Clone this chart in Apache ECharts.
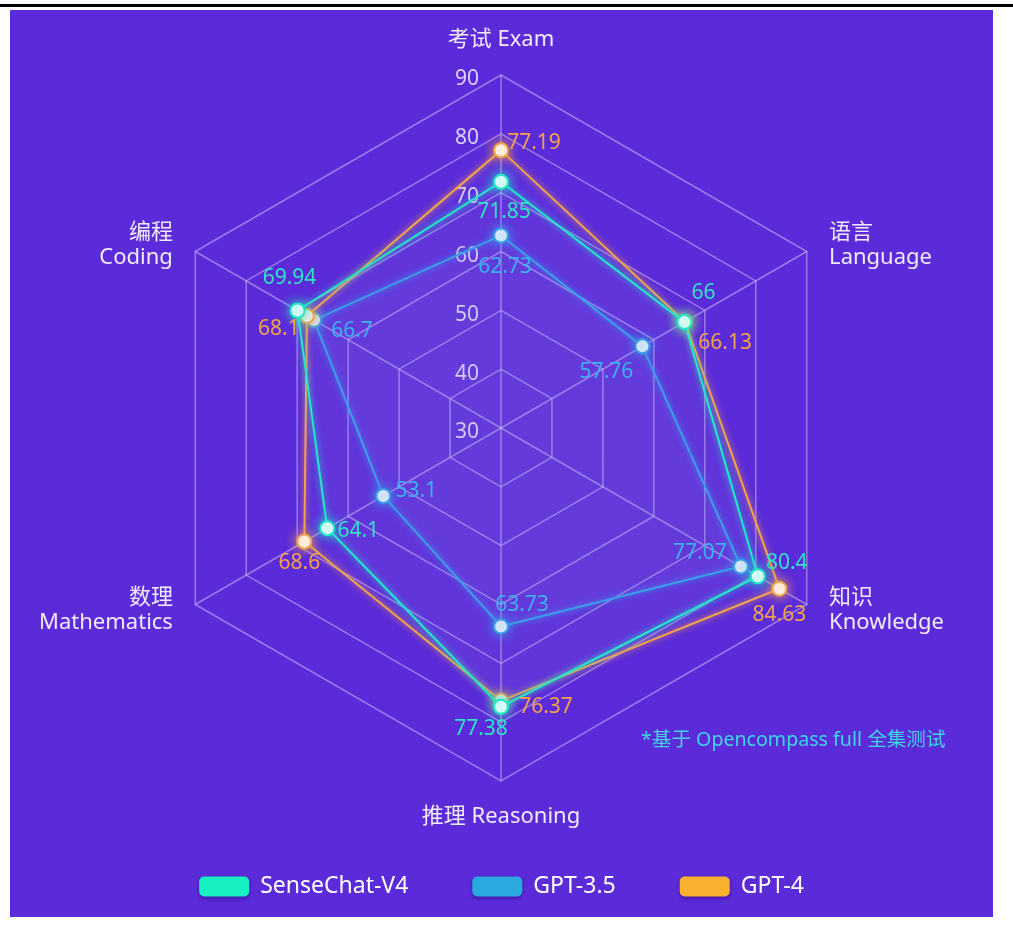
<!DOCTYPE html>
<html>
<head>
<meta charset="utf-8">
<script src="https://cdn.jsdelivr.net/npm/echarts@6/dist/echarts.min.js"></script>
<style>
  html, body { margin: 0; padding: 0; background: #ffffff; width: 1013px; height: 925px; overflow: hidden; }
  #topline { position: absolute; left: 0; top: 4px; width: 1013px; height: 3px; background: #000; }
  #chart { position: absolute; left: 10px; top: 10px; width: 983px; height: 907px; background: #5b2bd9; }
</style>
</head>
<body>
<div id="topline"></div>
<div id="chart"></div>
<script>
// ---- data (radar order: counter-clockwise from top) ----
const indicatorNames = ['考试 Exam', '编程\nCoding', '数理\nMathematics', '推理 Reasoning', '知识\nKnowledge', '语言\nLanguage'];
const axisMin = 30;
const axisMax = 90;
const seriesNames = ['SenseChat-V4', 'GPT-3.5', 'GPT-4'];
const senseChatV4 = [71.85, 69.94, 64.1, 77.38, 80.4, 66];
const gpt35 = [62.73, 66.7, 53.1, 63.73, 77.07, 57.76];
const gpt4 = [77.19, 68.1, 68.6, 76.37, 84.63, 66.13];
const footnote = '*基于 Opencompass full 全集测试';

// ---- styles ----
const FONT = "'Noto Sans', 'Noto Sans CJK SC', sans-serif";
const lineColors = { 'SenseChat-V4': '#22e8c8', 'GPT-3.5': '#2f9fe8', 'GPT-4': '#f2a448' };
const labelColors = { 'SenseChat-V4': '#2ee3c6', 'GPT-3.5': '#3ab2ee', 'GPT-4': '#f2a24a' };
const legendColors = { 'SenseChat-V4': '#17f0c0', 'GPT-3.5': '#2aa8e0', 'GPT-4': '#f8b12f' };
// label offsets per vertex (style only)
const labelOffsets = {
  'SenseChat-V4': [[3, 30], [-8, -32], [31, 3], [-20, 22], [29, -13], [19, -29]],
  'GPT-3.5': [[4, 32], [38, 11], [33, -5], [21, -21], [-41, -13], [-36, 26]],
  'GPT-4': [[33, -7], [-28, 13], [-5, 21], [45, 6], [0, 26], [40, 21]]
};
const valuesByName = { 'SenseChat-V4': senseChatV4, 'GPT-3.5': gpt35, 'GPT-4': gpt4 };
const drawOrder = ['GPT-3.5', 'GPT-4', 'SenseChat-V4'];

const chart = echarts.init(document.getElementById('chart'), null, { renderer: 'canvas' });

const indicator = indicatorNames.map((n, i) => {
  const o = { name: n, min: axisMin, max: axisMax };
  if (i === 0) {
    o.axisLabel = {
      show: true, margin: 22,
      formatter: (v) => '{t|' + v + '}',
      rich: { t: { color: '#ddd1f8', fontSize: 21, fontFamily: FONT, padding: [9, 0, 0, 0] } }
    };
  }
  return o;
});

const series = [];
drawOrder.forEach((name, k) => {
  const c = lineColors[name];
  series.push({
    type: 'radar',
    name: name,
    z: 2 + k,
    symbol: 'circle',
    symbolSize: 14,
    itemStyle: { color: '#ffffff', borderColor: c, borderWidth: 2, shadowBlur: 12, shadowColor: c },
    lineStyle: { color: c, width: 2, shadowBlur: 6, shadowColor: c },
    areaStyle: { color: 'rgba(150,160,235,0.07)' },
    label: { show: false },
    data: [{ value: valuesByName[name], name: name }]
  });
});
drawOrder.forEach((name) => {
  const vals = valuesByName[name];
  vals.forEach((v, i) => {
    series.push({
      type: 'radar',
      name: name + '__label' + i,
      z: 10,
      silent: true,
      symbol: 'circle',
      symbolSize: 1,
      itemStyle: { color: 'rgba(0,0,0,0)', borderWidth: 0 },
      lineStyle: { opacity: 0, width: 0 },
      label: {
        show: true,
        position: 'inside',
        offset: labelOffsets[name][i],
        color: labelColors[name],
        fontSize: 21,
        fontFamily: FONT,
        formatter: (p) => (p.value === v ? String(v) : '')
      },
      data: [{ value: vals }]
    });
  });
});

chart.setOption({
  backgroundColor: 'transparent',
  animation: false,
  textStyle: { fontFamily: FONT },
  legend: {
    data: seriesNames.map(n => ({ name: n, itemStyle: { color: legendColors[n], borderWidth: 0, shadowBlur: 4, shadowColor: 'rgba(40,0,120,0.5)', shadowOffsetY: 2 } })),
    top: 860,
    left: 'center',
    icon: 'roundRect',
    itemWidth: 50,
    itemHeight: 20,
    itemGap: 64,
    textStyle: { color: '#ffffff', fontSize: 23, fontFamily: FONT, padding: [0, 0, 0, 6] }
  },
  radar: {
    center: [491, 418],
    radius: 353,
    startAngle: 90,
    splitNumber: 6,
    shape: 'polygon',
    nameGap: 12,
    axisName: {
      color: '#f1eaff',
      fontSize: 22,
      lineHeight: 25,
      fontFamily: FONT,
      padding: [11, 12, 11, 12]
    },
    indicator: indicator,
    axisLine: { lineStyle: { color: 'rgba(205,190,245,0.55)', width: 1.5 } },
    splitLine: { lineStyle: { color: 'rgba(205,190,245,0.55)', width: 1.5 } },
    splitArea: { show: false },
    axisLabel: { show: false },
    axisTick: { show: false }
  },
  graphic: [{
    type: 'text',
    left: 631,
    top: 721,
    style: { text: footnote, fill: '#3fd5e5', fontSize: 19.6, fontFamily: FONT }
  }],
  series: series
});
</script>
</body>
</html>
